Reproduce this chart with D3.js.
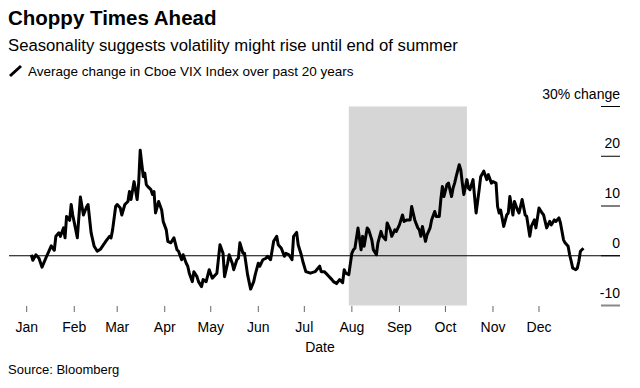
<div id="root"></div>
<style>
body { margin: 0; background: #fff; }
#root {
    font-family: "Liberation Sans", Arial, sans-serif;
    width: 640px;
    height: 388px;
}
</style>
<script src="https://d3js.org/d3.v7.min.js"></script>
<script>
// days since Jan 1, and average % change of the VIX on that day
var days = [3,4,6,8,10,13,15,16,18,19,21,22,24,25,26,28,29,30,32,33,35,37,39,40,42,44,46,48,50,52,54,55,56,58,59,61,62,64,66,67,68,70,72,73,74,76,77,78,79,81,82,83,84,86,88,89,91,92,94,96,98,99,
    101,102,104,105,106,108,109,111,112,114,115,117,119,121,124,126,128,129,131,132,134,135,137,138,139,141,142,144,146,148,149,151,152,154,156,157,159,161,163,164,166,168,169,171,173,174,176,177,179,180,182,185,188,191,192,194,196,199,
    200,202,204,206,207,208,210,212,213,214,216,218,219,220,222,223,225,226,228,229,231,232,234,235,237,238,240,241,243,245,246,248,250,251,253,255,256,257,258,260,261,263,264,266,267,269,270,271,272,274,275,277,278,279,280,282,283,284,285,287,288,289,291,292,293,295,296,298,
    300,301,303,304,306,307,308,309,311,313,314,315,317,318,320,321,323,325,326,328,329,331,332,334,336,337,339,341,342,344,345,347,348,350,351,353,354,355,356,358,359,360,361,363];
var vixChange = [0.2,-0.9,0.2,-0.5,-2.3,-0.1,1.3,2.0,1.1,3.9,4.6,3.9,5.6,3.6,7.9,7.1,10.3,8.2,5.2,3.6,11.8,8.2,9.8,10.3,4.6,1.9,0.9,1.3,2.2,3.1,3.9,3.6,5.2,9.9,10.3,9.6,8.2,10.3,10.9,12.9,11.3,14.9,11.3,14.6,21.2,15.9,16.6,14.3,13.9,13.3,12.3,12.9,8.6,10.9,9.2,6.9,5.2,2.9,2.6,3.6,1.2,0.9,
    -0.8,0.2,-1.5,-2.1,-3.5,-5.2,-3.2,-4.2,-5.2,-6.2,-4.8,-5.2,-2.8,-4.5,-3.5,2.2,0.5,-4.2,-1.5,0.2,-1.5,-2.8,-0.8,-0.5,2.6,0.5,0.5,-3.8,-6.7,-5.2,-3.8,-1.5,-2.1,-0.8,-0.5,-0.1,-0.8,2.9,3.9,2.2,1.5,-0.1,0.5,0.2,-0.8,3.9,4.7,2.2,0.2,-1.1,-3.2,-3.5,-3.2,-2.1,-3.2,-3.2,-3.8,-4.8,
    -5.2,-5.6,-4.8,-5.4,-2.8,-3.5,-3.8,0.5,1.2,1.5,5.6,1.2,3.9,1.9,5.6,5.2,3.2,1.2,0.2,2.6,4.9,3.9,3.2,6.6,5.2,3.9,5.2,4.9,6.2,8.2,6.9,7.2,7.2,9.9,7.2,5.6,5.2,3.9,5.9,2.9,4.2,5.6,7.2,8.9,7.9,7.9,11.3,13.9,11.9,14.3,14.6,11.9,13.6,14.6,15.9,18.3,17.3,14.6,12.3,15.3,13.6,13.3,15.3,11.9,8.6,13.3,15.9,17.0,
    15.3,16.3,14.6,14.9,14.6,9.9,8.6,9.2,5.9,8.2,8.6,11.9,8.2,10.9,9.2,8.6,11.3,8.2,7.9,3.9,5.9,7.2,5.6,9.6,8.6,8.2,5.6,6.9,6.2,7.2,6.9,7.6,6.6,3.2,2.6,1.9,0.2,-1.1,-2.5,-2.8,-2.5,-1.1,0.9,1.5];

var monthLabels = ["Jan","Feb","Mar","Apr","May","Jun","Jul","Aug","Sep","Oct","Nov","Dec"];
var yTicks = [-10, 0, 10, 20, 30];
var shadeSpan = ["2021-07-30", "2021-10-15"];

var width = 640, height = 388;
var parse = d3.timeParse("%Y-%m-%d");
var jan1 = new Date(2021, 0, 1);

var svg = d3.select("#root").append("svg")
    .attr("width", width)
    .attr("height", height);

var x = d3.scaleTime()
    .domain([jan1, new Date(2021, 11, 31)])
    .range([26.7, 585]);
var y = d3.scaleLinear()
    .domain([-10, 30])
    .range([305.5, 106.5]);

// headings
svg.append("text").attr("x", 8).attr("y", 25)
    .style("font-size", "20.5px").style("font-weight", "bold").text("Choppy Times Ahead");
svg.append("text").attr("x", 8).attr("y", 51)
    .style("font-size", "16.7px").text("Seasonality suggests volatility might rise until end of summer");
svg.append("line")
    .attr("x1", 10).attr("y1", 76).attr("x2", 21).attr("y2", 66)
    .attr("stroke", "#000").attr("stroke-width", 3);
svg.append("text").attr("x", 28).attr("y", 76)
    .style("font-size", "13.5px").text("Average change in Cboe VIX Index over past 20 years");

// shaded season
svg.append("rect")
    .attr("x", x(parse(shadeSpan[0])))
    .attr("width", x(parse(shadeSpan[1])) - x(parse(shadeSpan[0])))
    .attr("y", y(30))
    .attr("height", y(-10) - y(30))
    .attr("fill", "#d6d6d6");

// zero line
svg.append("line")
    .attr("x1", 9).attr("x2", 620)
    .attr("y1", y(0)).attr("y2", y(0))
    .attr("stroke", "#000").attr("stroke-width", 1);

// y axis on the right
var yg = svg.append("g");
yg.selectAll("line").data(yTicks).enter().append("line")
    .attr("x1", 601).attr("x2", 620)
    .attr("y1", function(d) { return y(d); })
    .attr("y2", function(d) { return y(d); })
    .attr("stroke", function(d) { return d == -10 ? "#888" : "#000"; })
    .attr("stroke-width", function(d) { return d == -10 ? 2 : 1; });
yg.selectAll("text").data(yTicks).enter().append("text")
    .attr("x", 620)
    .attr("y", function(d) { return y(d) - 8; })
    .attr("text-anchor", "end")
    .style("font-size", "14px")
    .text(function(d) { return d == 30 ? "30% change" : d; });

// x axis
var months = monthLabels.map(function(m, i) { return new Date(2021, i, 1); });
var xg = svg.append("g");
xg.selectAll("line").data(months).enter().append("line")
    .attr("x1", function(d) { return x(d); })
    .attr("x2", function(d) { return x(d); })
    .attr("y1", 306).attr("y2", 312)
    .attr("stroke", "#666");
xg.selectAll("text").data(months).enter().append("text")
    .attr("x", function(d) { return x(d); })
    .attr("y", 332)
    .attr("text-anchor", "middle")
    .style("font-size", "14px")
    .text(function(d, i) { return monthLabels[i]; });
svg.append("text").attr("x", 320).attr("y", 352)
    .attr("text-anchor", "middle").style("font-size", "14px").text("Date");

svg.append("text").attr("x", 8).attr("y", 374)
    .style("font-size", "13px").text("Source: Bloomberg");

// the series
var line = d3.line()
    .x(function(d, i) { return x(d3.timeDay.offset(jan1, days[i])); })
    .y(function(d) { return y(d); });
svg.append("path")
    .datum(vixChange)
    .attr("d", line)
    .attr("fill", "none")
    .attr("stroke", "#000")
    .attr("stroke-width", 3)
    .attr("stroke-linejoin", "round");
</script>
